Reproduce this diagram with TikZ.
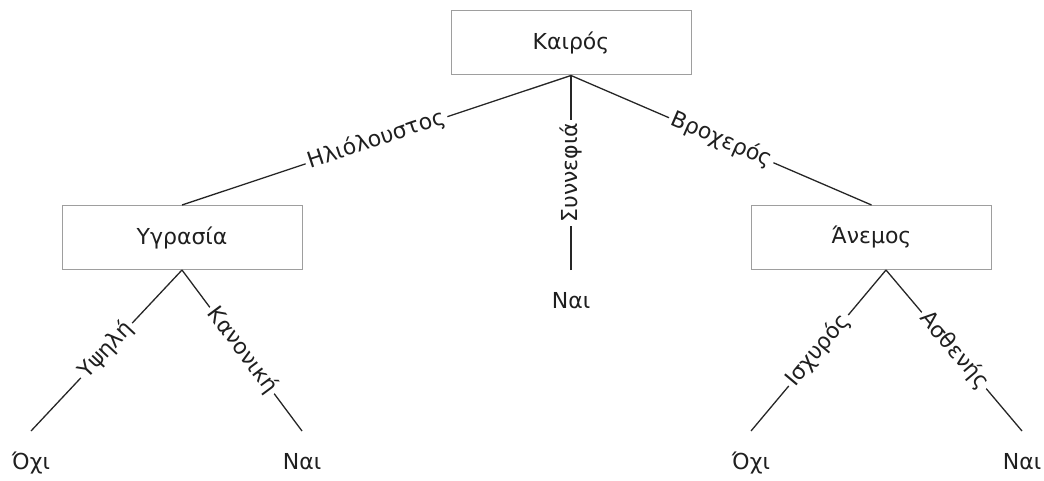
\documentclass[tikz,border=0pt]{standalone}
\usepackage{fontspec}
\setmainfont{DejaVu Sans}
\begin{document}
\begin{tikzpicture}[x=1pt,y=-1pt,
  every node/.style={font=\fontsize{22}{26}\selectfont, text=black!88},
  attr/.style={draw=black!38, line width=1pt, minimum width=240pt,
               minimum height=64pt, inner sep=0pt},
  leaf/.style={anchor=north, inner xsep=0pt, inner ysep=21pt,
               text height=17pt, text depth=5pt},
  branch/.style={draw=black!85, line width=1.3pt},
  cond/.style={midway, sloped, fill=white, inner sep=3pt,
               text height=17pt, text depth=5pt}]
\useasboundingbox (0,0) rectangle (1044,481);

% attribute nodes
\node[attr] (kairos) at (571,43)    {Καιρός};
\node[attr] (ygr)    at (182,237.5) {Υγρασία};
\node[attr] (anem)   at (871.5,237.5) {Άνεμος};
\coordinate (anemfork) at ([xshift=14.5pt]anem.south);

% leaves
\node[leaf] (nai0) at (571,270) {Ναι};
\node[leaf] (l1)   at (31,431)   {Όχι};
\node[leaf] (l2)   at (302,431)  {Ναι};
\node[leaf] (l3)   at (751,431)  {Όχι};
\node[leaf] (l4)   at (1022,431) {Ναι};

% branches with their conditions
\draw[branch] (kairos.south) -- node[cond] {Ηλιόλουστος} (ygr.north);
\draw[branch] (nai0.north)   -- node[cond] {Συννεφιά}    (kairos.south);
\draw[branch] (kairos.south) -- node[cond] {Βροχερός}    (anem.north);
\draw[branch] (ygr.south)    -- node[cond] {Υψηλή}       (l1.north);
\draw[branch] (ygr.south)    -- node[cond] {Κανονική}    (l2.north);
\draw[branch] (anemfork)     -- node[cond] {Ισχυρός}     (l3.north);
\draw[branch] (anemfork)     -- node[cond] {Ασθενής}     (l4.north);
\end{tikzpicture}
\end{document}
